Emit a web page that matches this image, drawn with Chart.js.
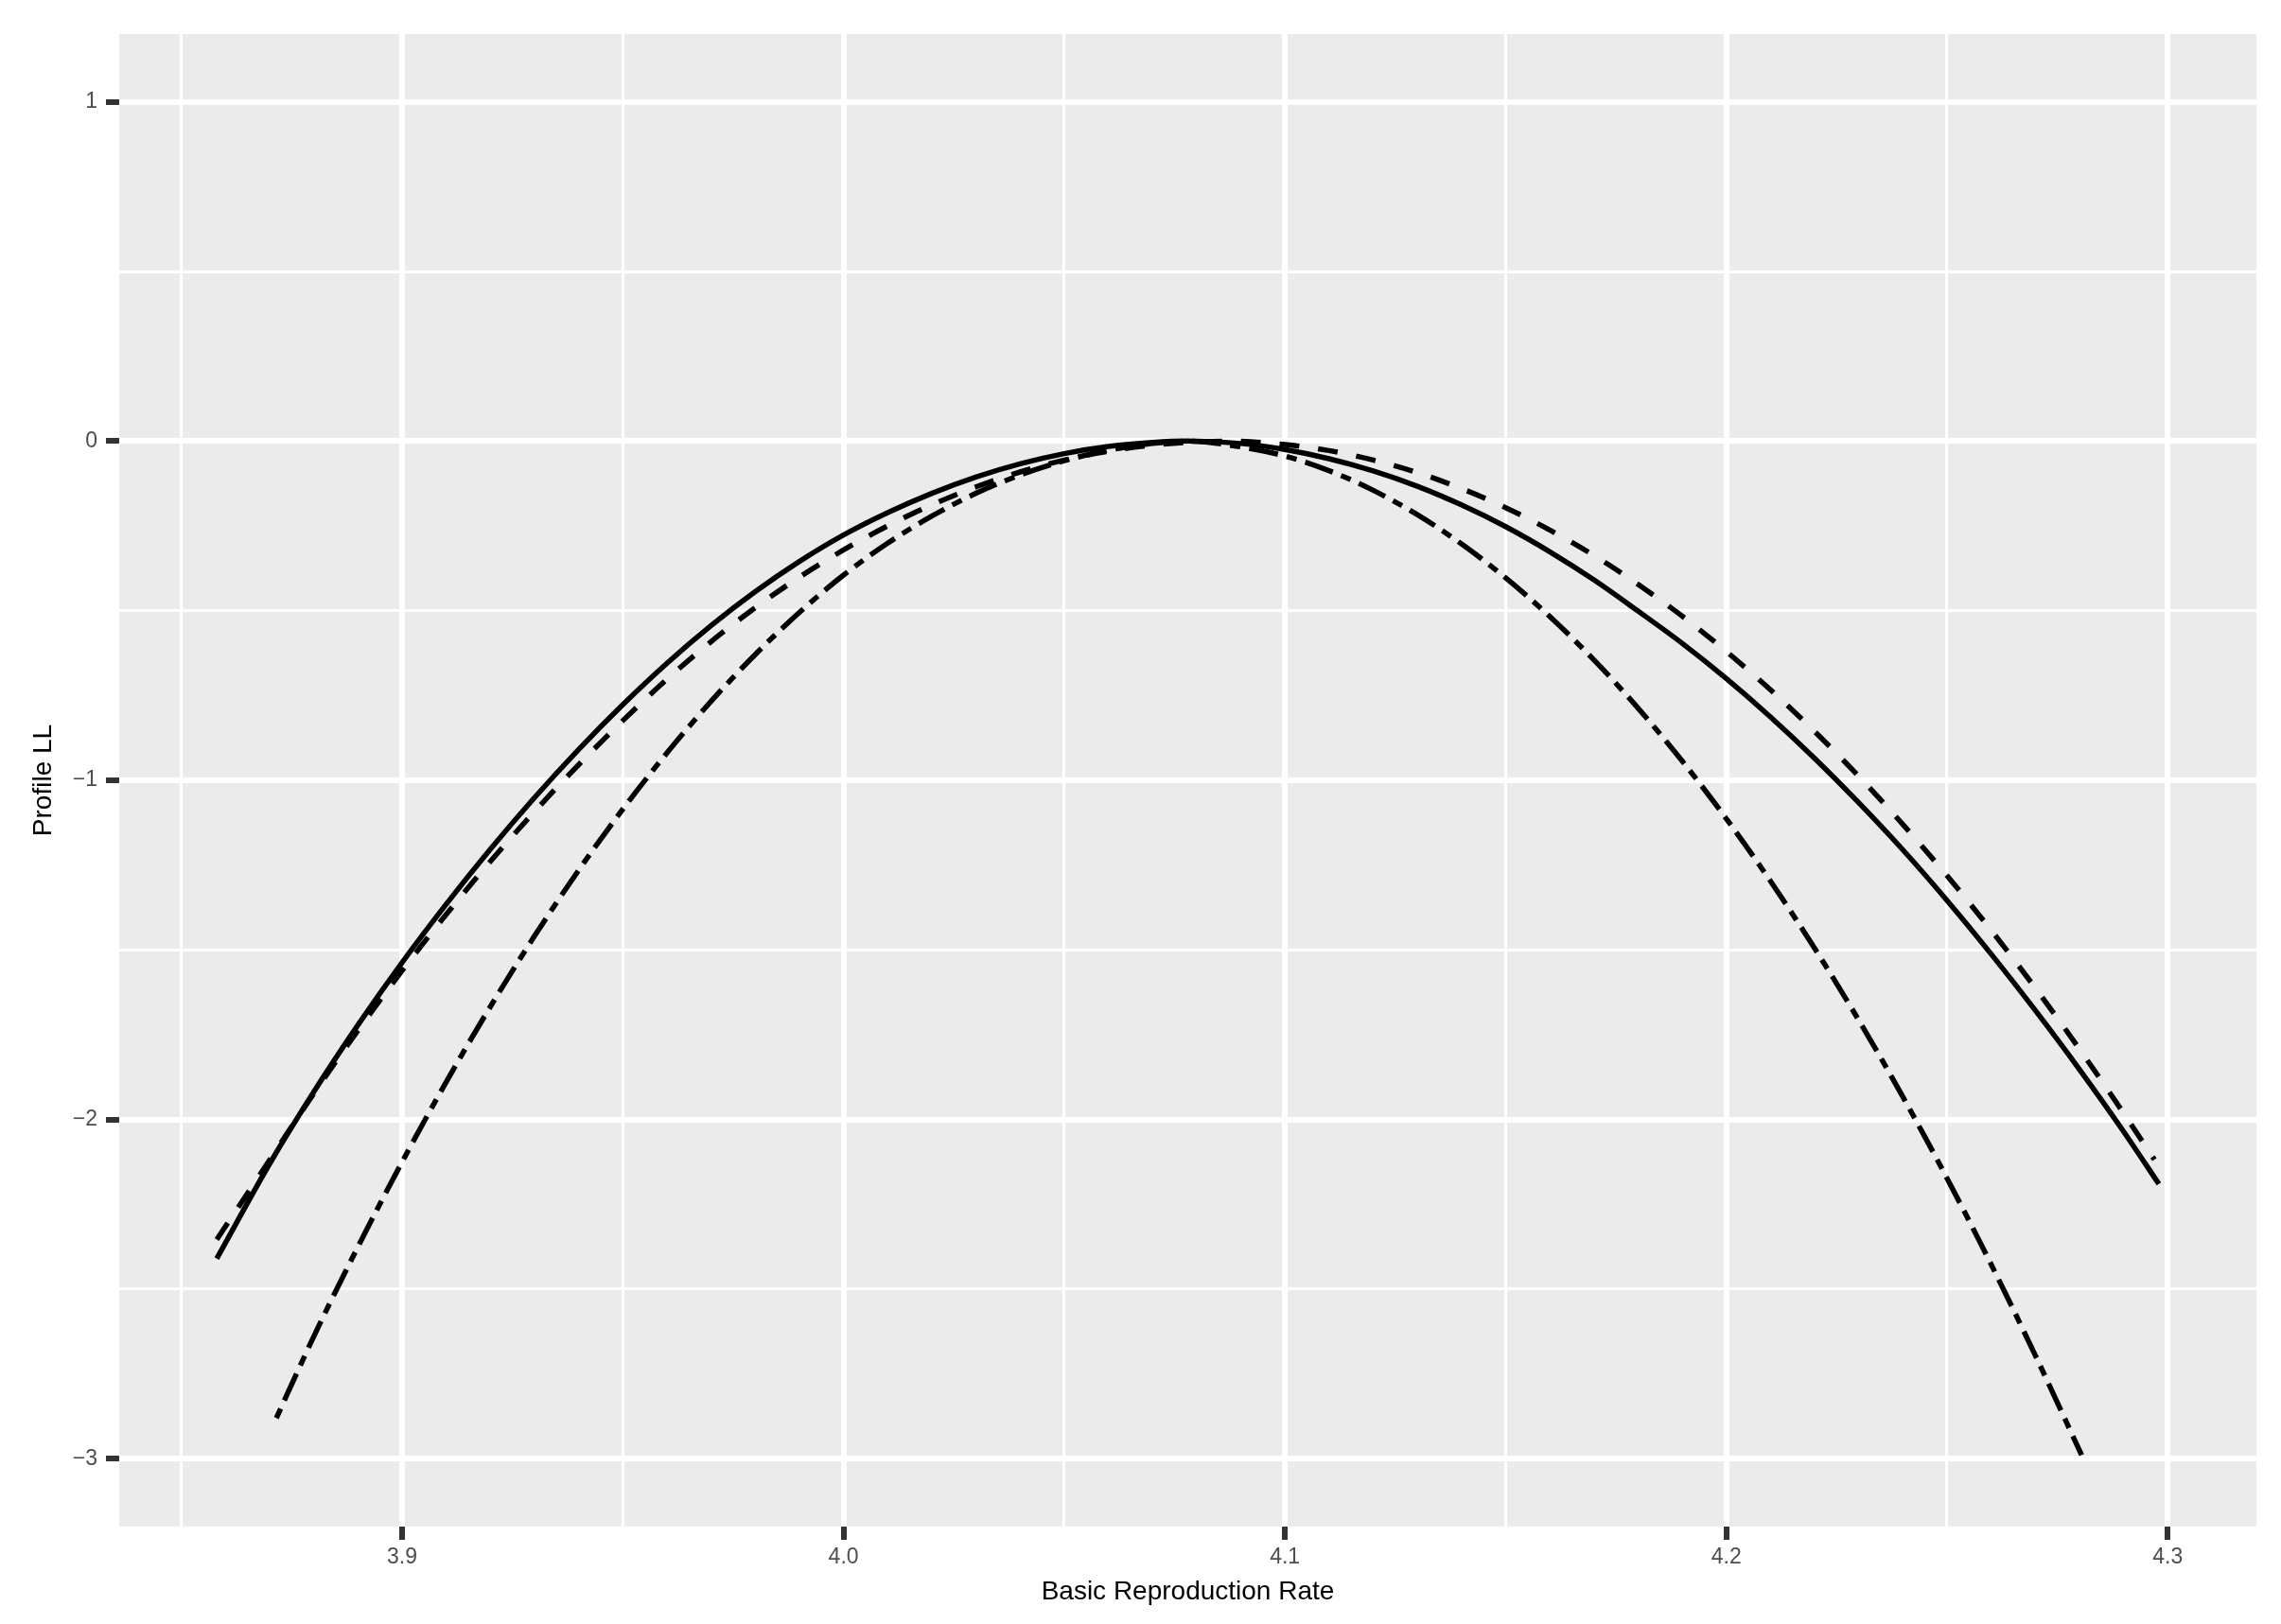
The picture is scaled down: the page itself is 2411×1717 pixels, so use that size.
<!DOCTYPE html>
<html>
<head>
<meta charset="utf-8">
<script src="https://cdn.jsdelivr.net/npm/chart.js@4/dist/chart.umd.min.js"></script>
<style>
  html, body { margin: 0; padding: 0; background: #ffffff; }
  #wrap { width: 2411px; height: 1717px; }
</style>
</head>
<body>
<div id="wrap"><canvas id="c" width="2411" height="1717"></canvas></div>
<script>
// ---------------- data ----------------
const solidX = [3.858, 3.87, 3.88, 3.89, 3.90, 3.91, 3.92, 3.93, 3.94, 3.95, 3.96, 3.97, 3.98, 3.99, 4.00, 4.01, 4.02, 4.03, 4.04, 4.05, 4.06, 4.07, 4.078, 4.09, 4.10, 4.11, 4.12, 4.13, 4.14, 4.15, 4.16, 4.17, 4.18, 4.19, 4.20, 4.21, 4.22, 4.23, 4.24, 4.25, 4.26, 4.27, 4.28, 4.29, 4.298];
const solidY = [-2.410, -2.130, -1.918, -1.721, -1.537, -1.365, -1.203, -1.051, -0.909, -0.777, -0.655, -0.544, -0.444, -0.355, -0.277, -0.211, -0.154, -0.106, -0.067, -0.037, -0.016, -0.004, 0, -0.007, -0.025, -0.052, -0.088, -0.133, -0.188, -0.252, -0.326, -0.409, -0.501, -0.596, -0.700, -0.813, -0.935, -1.066, -1.205, -1.354, -1.512, -1.678, -1.852, -2.035, -2.190];

const dashedX = [3.858, 3.87, 3.88, 3.89, 3.90, 3.91, 3.92, 3.93, 3.94, 3.95, 3.96, 3.97, 3.98, 3.99, 4.00, 4.01, 4.02, 4.03, 4.04, 4.05, 4.06, 4.07, 4.08, 4.087, 4.10, 4.11, 4.12, 4.13, 4.14, 4.15, 4.16, 4.17, 4.18, 4.19, 4.20, 4.21, 4.22, 4.23, 4.24, 4.25, 4.26, 4.27, 4.28, 4.29, 4.297];
const dashedY = [-2.354, -2.119, -1.923, -1.737, -1.561, -1.395, -1.239, -1.092, -0.954, -0.824, -0.702, -0.591, -0.491, -0.401, -0.321, -0.250, -0.188, -0.135, -0.091, -0.056, -0.030, -0.012, -0.002, 0, -0.010, -0.028, -0.056, -0.093, -0.140, -0.196, -0.262, -0.337, -0.422, -0.516, -0.620, -0.733, -0.856, -0.988, -1.130, -1.281, -1.442, -1.612, -1.792, -1.981, -2.118];

const dotdashX = [3.8715, 3.88, 3.89, 3.90, 3.91, 3.92, 3.93, 3.94, 3.95, 3.96, 3.97, 3.98, 3.99, 4.00, 4.01, 4.02, 4.03, 4.04, 4.05, 4.06, 4.07, 4.078, 4.09, 4.10, 4.11, 4.12, 4.13, 4.14, 4.15, 4.16, 4.17, 4.18, 4.19, 4.20, 4.21, 4.22, 4.23, 4.24, 4.25, 4.26, 4.27, 4.2805];
const dotdashY = [-2.880, -2.639, -2.375, -2.125, -1.889, -1.667, -1.459, -1.265, -1.085, -0.919, -0.767, -0.629, -0.505, -0.395, -0.301, -0.221, -0.154, -0.100, -0.058, -0.027, -0.007, 0, -0.017, -0.044, -0.087, -0.145, -0.217, -0.303, -0.403, -0.517, -0.645, -0.787, -0.943, -1.113, -1.297, -1.495, -1.707, -1.933, -2.173, -2.427, -2.695, -2.989];

const xMajorTicks = [3.9, 4.0, 4.1, 4.2, 4.3];
const xMinorTicks = [3.85, 3.95, 4.05, 4.15, 4.25];
const yMajorTicks = [-3, -2, -1, 0, 1];
const yMinorTicks = [-2.5, -1.5, -0.5, 0.5];
const xTickLabels = ['3.9', '4.0', '4.1', '4.2', '4.3'];
const yTickLabels = ['\u22123', '\u22122', '\u22121', '0', '1'];

const xTitle = 'Basic Reproduction Rate';
const yTitle = 'Profile LL';

// ---------------- helpers ----------------
function pts(xs, ys) { return xs.map((x, i) => ({ x: x, y: ys[i] })); }
function buildTicks(major, minor) {
  return major.map(v => ({ value: v, major: true }))
    .concat(minor.map(v => ({ value: v, major: false })))
    .sort((a, b) => a.value - b.value);
}
function labelFor(majors, labels, v) {
  const i = majors.findIndex(m => Math.abs(m - v) < 1e-9);
  return i >= 0 ? labels[i] : '';
}

const panelBg = {
  id: 'panelBg',
  beforeDraw(chart) {
    const { ctx, chartArea: a } = chart;
    ctx.save();
    ctx.fillStyle = '#EBEBEB';
    ctx.fillRect(a.left, a.top, a.right - a.left, a.bottom - a.top);
    ctx.restore();
  }
};

const FONT = "'Liberation Sans', Arial, Helvetica, sans-serif";
const LW = 5.5;

new Chart(document.getElementById('c'), {
  type: 'line',
  data: {
    datasets: [
      { data: pts(solidX, solidY), borderColor: '#000000', borderWidth: LW, borderDash: [] },
      { data: pts(dashedX, dashedY), borderColor: '#000000', borderWidth: LW, borderDash: [21, 20] },
      { data: pts(dotdashX, dotdashY), borderColor: '#000000', borderWidth: LW, borderDash: [11, 9.5, 31, 9.5] }
    ]
  },
  options: {
    responsive: false,
    devicePixelRatio: 1,
    animation: false,
    elements: {
      point: { radius: 0 },
      line: { cubicInterpolationMode: 'monotone', fill: false, borderCapStyle: 'butt', borderJoinStyle: 'round' }
    },
    layout: { padding: { left: 0, top: 36, right: 26, bottom: 0 } },
    plugins: { legend: { display: false }, tooltip: { enabled: false }, title: { display: false } },
    scales: {
      x: {
        type: 'linear',
        min: 3.8359, max: 4.3201,
        afterBuildTicks: (s) => { s.ticks = buildTicks(xMajorTicks, xMinorTicks); },
        afterFit: (s) => { s.height = 103; },
        border: { display: false },
        grid: {
          color: '#FFFFFF',
          lineWidth: (c) => (c.tick && c.tick.major) ? 6 : 3,
          drawTicks: true,
          tickLength: 14,
          tickWidth: 6,
          tickColor: (c) => (c.tick && c.tick.major) ? '#333333' : 'rgba(0,0,0,0)'
        },
        ticks: {
          autoSkip: false, maxRotation: 0, minRotation: 0,
          padding: 5,
          color: '#4D4D4D',
          font: { family: FONT, size: 23 },
          callback: (v) => labelFor(xMajorTicks, xTickLabels, v)
        },
        title: {
          display: true, text: xTitle, color: '#000000',
          font: { family: FONT, size: 28 },
          padding: { top: 0, bottom: 17 }
        }
      },
      y: {
        type: 'linear',
        min: -3.2, max: 1.2,
        afterBuildTicks: (s) => { s.ticks = buildTicks(yMajorTicks, yMinorTicks); },
        afterFit: (s) => { s.width = 126; },
        border: { display: false },
        grid: {
          color: '#FFFFFF',
          lineWidth: (c) => (c.tick && c.tick.major) ? 6 : 3,
          drawTicks: true,
          tickLength: 14,
          tickWidth: 6,
          tickColor: (c) => (c.tick && c.tick.major) ? '#333333' : 'rgba(0,0,0,0)'
        },
        ticks: {
          autoSkip: false,
          padding: 9,
          color: '#4D4D4D',
          font: { family: FONT, size: 23 },
          callback: (v) => labelFor(yMajorTicks, yTickLabels, v)
        },
        title: {
          display: true, text: yTitle, color: '#000000',
          font: { family: FONT, size: 28 },
          padding: { top: 29, bottom: 0 }
        }
      }
    }
  },
  plugins: [panelBg]
});
</script>
</body>
</html>
